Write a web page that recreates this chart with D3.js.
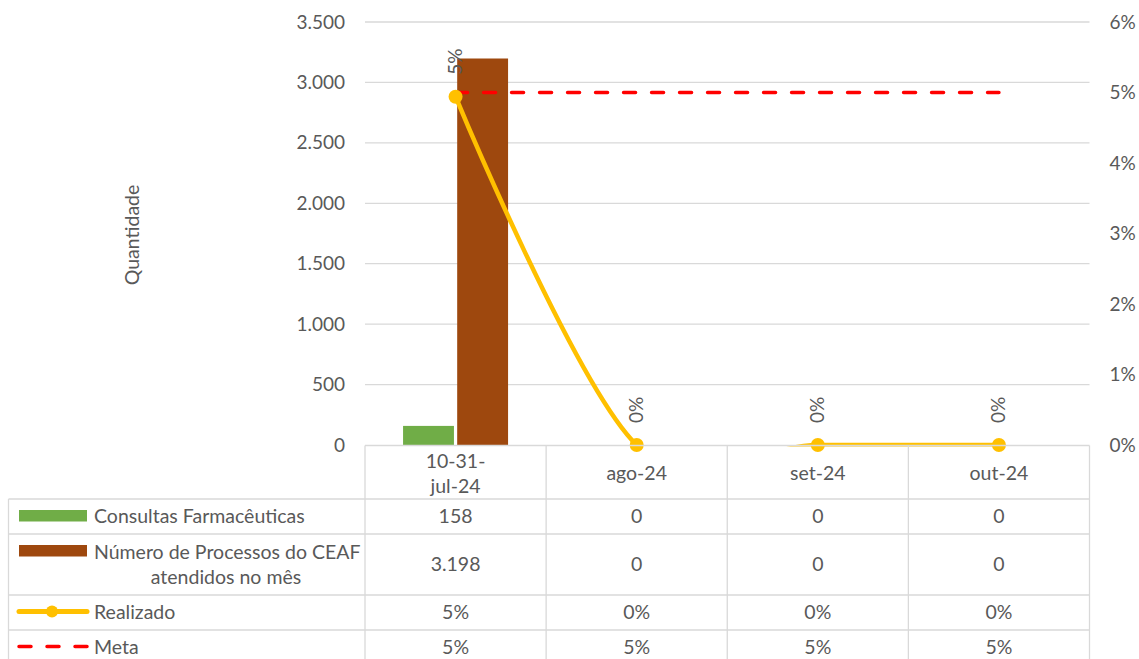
<!DOCTYPE html>
<html><head><meta charset="utf-8">
<script src="https://cdn.jsdelivr.net/npm/d3@7"></script>
<style>
body{margin:0;background:#fff;}
text{font-family:Lato,"Open Sans",sans-serif;fill:#595959;}
</style></head>
<body><svg id="c" width="1139" height="659"></svg>
<script>
const categories = [["10-31-","jul-24"],["ago-24"],["set-24"],["out-24"]];
const consultas = [158, 0, 0, 0];
const processos = [3198, 0, 0, 0];
const realizado = [0.0494, 0, 0, 0];
const meta = [0.05, 0.05, 0.05, 0.05];
const leftTicks = [0,500,1000,1500,2000,2500,3000,3500];
const rightTicks = [0,0.01,0.02,0.03,0.04,0.05,0.06];
const consultasLabels = ["158","0","0","0"];
const processosLabels = ["3.198","0","0","0"];
const realizadoLabels = ["5%","0%","0%","0%"];
const metaLabels = ["5%","5%","5%","5%"];
const seriesNames = ["Consultas Farmacêuticas", ["Número de Processos do CEAF","atendidos no mês"], "Realizado", "Meta"];

const svg = d3.select("#c");
const L = 365, R = 1089.5, T = 22, B = 445;
const grid = "#d9d9d9", txt = "#595959";
const cGreen = "#70ad47", cBrown = "#9e480e", cYellow = "#ffc000", cRed = "#ff0000";
const FS = 19.5, FSN = 19;

const idx = categories.map((d,i)=>i);
const x = d3.scaleBand().domain(idx).range([L, R]).padding(0);
const y = d3.scaleLinear().domain([0,3500]).range([B, T]);
const y2 = d3.scaleLinear().domain([0,0.06]).range([B, T]);
const fmtL = v => d3.format(",")(v).replace(/,/g,".");
const fmtP = d3.format(".0%");

// gridlines
svg.append("g").selectAll("line").data(leftTicks.filter(d=>d>0)).join("line")
  .attr("x1", L).attr("x2", R).attr("y1", d=>y(d)).attr("y2", d=>y(d))
  .attr("stroke", grid).attr("stroke-width", 1.3);

// left axis
const la = svg.append("g").attr("transform", `translate(${L},0)`)
  .call(d3.axisLeft(y).tickValues(leftTicks).tickFormat(fmtL).tickSize(0).tickPadding(20));
la.select(".domain").remove();
la.selectAll("text").attr("font-size", FSN).attr("fill", txt).style("font-family","Lato");
// right axis
const ra = svg.append("g").attr("transform", `translate(${R},0)`)
  .call(d3.axisRight(y2).tickValues(rightTicks).tickFormat(fmtP).tickSize(0).tickPadding(20));
ra.select(".domain").remove();
ra.selectAll("text").attr("font-size", FSN).attr("fill", txt).style("font-family","Lato");

svg.append("text").attr("transform", "translate(139,235) rotate(-90)")
  .attr("text-anchor","middle").attr("font-size", FS).text("Quantidade");

// bars
const groupW = 105;
const sub = d3.scaleBand().domain([0,1]).range([0, groupW]).paddingInner(0.06);
const off = (x.bandwidth()-groupW)/2;
const barSeries = [consultas, processos];
const barColors = [cGreen, cBrown];
barSeries.forEach((vals, s) => {
  svg.append("g").selectAll("rect").data(vals).join("rect")
    .attr("x", (d,i)=>x(i)+off+sub(s)).attr("width", sub.bandwidth())
    .attr("y", d=>y(d)).attr("height", d=>B-y(d)).attr("fill", barColors[s]);
});

// clip for lines
svg.append("clipPath").attr("id","clip").append("rect")
  .attr("x", L).attr("y", 0).attr("width", R-L).attr("height", B-0+1.5);

const cx = i => x(i)+x.bandwidth()/2;
// meta line
svg.append("path").datum(meta)
  .attr("d", d3.line().x((d,i)=>cx(i)).y(d=>y2(d)))
  .attr("fill","none").attr("stroke", cRed).attr("stroke-width", 3.5)
  .attr("stroke-dasharray","12,16").attr("stroke-linecap","round");

// realizado line
svg.append("path").datum(realizado).attr("clip-path","url(#clip)")
  .attr("d", d3.line().x((d,i)=>cx(i)).y(d=>y2(d)).curve(d3.curveCardinal.tension(0)))
  .attr("fill","none").attr("stroke", cYellow).attr("stroke-width", 4.5);
svg.append("g").selectAll("circle").data(realizado).join("circle")
  .attr("cx",(d,i)=>cx(i)).attr("cy", d=>y2(d)).attr("r", 7).attr("fill", cYellow);

// data labels
svg.append("g").selectAll("text").data(realizado).join("text")
  .attr("transform",(d,i)=>`translate(${cx(i)+6.5},${y2(d)-22}) rotate(-90)`)
  .attr("font-size", FSN).attr("text-anchor","start").text((d,i)=>realizadoLabels[i]);

// data table
const rowsY = [445.5, 499, 534, 595, 630, 670];
const tbl = svg.append("g").attr("stroke", grid).attr("stroke-width", 1.3);
d3.range(categories.length+1).forEach(i => {
  const xx = i < categories.length ? x(i) : R;
  tbl.append("line").attr("x1", xx).attr("x2", xx).attr("y1", rowsY[0]).attr("y2", 659);
});
tbl.append("line").attr("x1", 8.5).attr("x2", 8.5).attr("y1", rowsY[1]).attr("y2", 659);
tbl.append("line").attr("x1", L).attr("x2", R).attr("y1", rowsY[0]).attr("y2", rowsY[0]);
[1,2,3,4].forEach(r => tbl.append("line").attr("x1", 8.5).attr("x2", R).attr("y1", rowsY[r]).attr("y2", rowsY[r]));

// header
categories.forEach((lines, i) => {
  const n = lines.length;
  lines.forEach((t, k) => {
    svg.append("text").attr("x", cx(i)).attr("y", 473.5 + (k-(n-1)/2)*24.5)
      .attr("dy","0.35em").attr("text-anchor","middle").attr("font-size", FS).text(t);
  });
});

const tableRows = [consultasLabels, processosLabels, realizadoLabels, metaLabels];
const rowCenters = [516.5, 564.5, 612.5, 647.5];
tableRows.forEach((vals, r) => {
  vals.forEach((v, i) => {
    svg.append("text").attr("x", cx(i)).attr("y", rowCenters[r]).attr("dy","0.35em")
      .attr("text-anchor","middle").attr("font-size", FS).text(v);
  });
});

// legend keys
svg.append("rect").attr("x",19).attr("y",510).attr("width",68).attr("height",11.5).attr("fill",cGreen);
svg.append("rect").attr("x",19).attr("y",545).attr("width",68).attr("height",11.5).attr("fill",cBrown);
svg.append("line").attr("x1",19).attr("x2",87).attr("y1",611.5).attr("y2",611.5)
  .attr("stroke",cYellow).attr("stroke-width",5).attr("stroke-linecap","round");
svg.append("circle").attr("cx",52).attr("cy",611.5).attr("r",6).attr("fill",cYellow);
svg.append("line").attr("x1",19).attr("x2",87).attr("y1",646.5).attr("y2",646.5)
  .attr("stroke",cRed).attr("stroke-width",3.5).attr("stroke-dasharray","12,16").attr("stroke-linecap","round");

// legend texts
svg.append("text").attr("x",94).attr("y",rowCenters[0]).attr("dy","0.35em").attr("font-size",FS).text(seriesNames[0]);
svg.append("text").attr("x",94).attr("y",552.5).attr("dy","0.35em").attr("font-size",FS).text(seriesNames[1][0]);
svg.append("text").attr("x",226).attr("y",577).attr("dy","0.35em").attr("text-anchor","middle").attr("font-size",FS).text(seriesNames[1][1]);
svg.append("text").attr("x",94).attr("y",rowCenters[2]).attr("dy","0.35em").attr("font-size",FS).text(seriesNames[2]);
svg.append("text").attr("x",94).attr("y",rowCenters[3]).attr("dy","0.35em").attr("font-size",FS).text(seriesNames[3]);
</script></body></html>
